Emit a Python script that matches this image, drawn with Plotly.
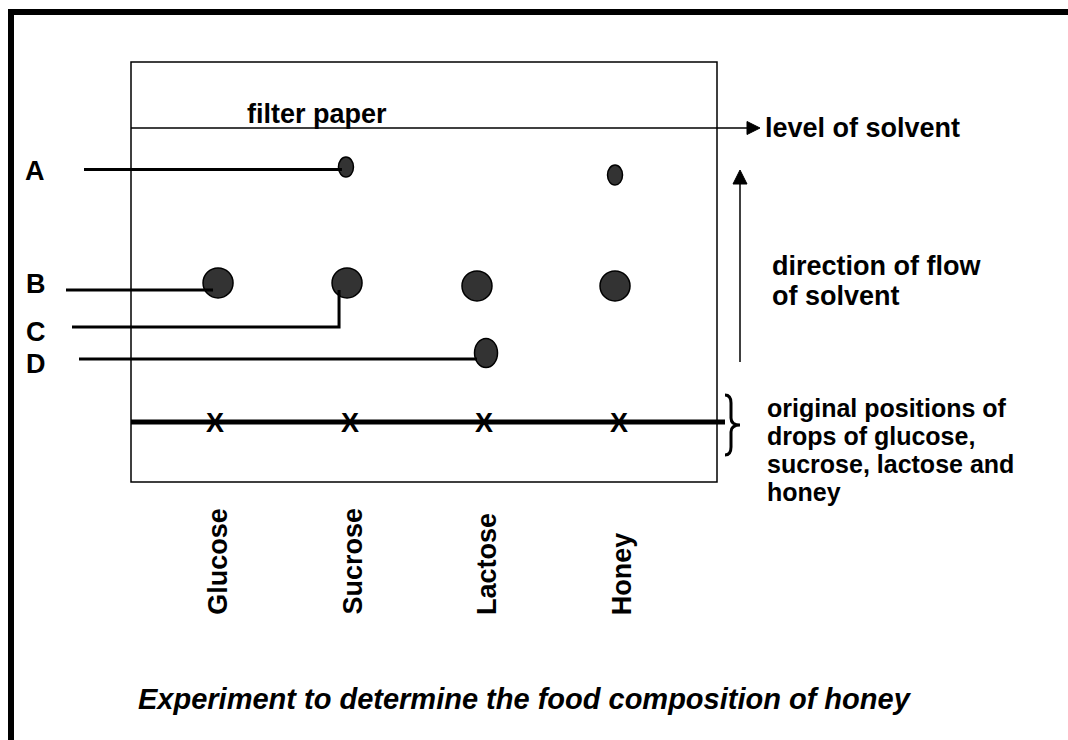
import plotly.graph_objects as go

# ---------------- data ----------------
lanes = ["Glucose", "Sucrose", "Lactose", "Honey"]
# spots on the chromatogram: lane, component letter, Rf (distance / solvent front)
spot_lane = ["Glucose", "Sucrose", "Sucrose", "Lactose", "Lactose", "Honey", "Honey"]
spot_component = ["B", "A", "B", "B", "D", "A", "B"]
spot_rf = [0.473, 0.867, 0.473, 0.463, 0.235, 0.840, 0.463]
spot_drift = [0.024, -0.027, -0.019, -0.055, 0.012, -0.031, -0.031]  # sideways drift, lane units
# leader labels and the spot each one points at (index into spot lists)
leader_labels = ["A", "B", "C", "D"]
leader_spot = [1, 0, 2, 4]

title_text = "Experiment to determine the food composition of honey"
paper_text = "filter paper"
front_text = "level of solvent"
flow_lines = ["direction of flow", "of solvent"]
origin_lines = ["original positions of", "drops of glucose,", "sucrose, lactose and", "honey"]

# ---------------- calibration / geometry ----------------
W, H = 1068, 740
LANE0_PX, LANE_STEP_PX = 214.8, 134.8      # pixel x of first lane, lane spacing
ORIGIN_PY, FRONT_PY = 422.0, 128.0         # pixel y of origin line (Rf 0) and solvent front (Rf 1)
RF_PX = ORIGIN_PY - FRONT_PY


def X(px):
    return (px - LANE0_PX) / LANE_STEP_PX


def Y(py):
    return (ORIGIN_PY - py) / RF_PX


def lane_x(name):
    return lanes.index(name)


FONT = "Liberation Sans, Arial, Helvetica, sans-serif"
LABEL_SIZE = 27
SPOT_FILL = "#333333"
spot_size = {"A": (15, 20), "B": (30, 30), "D": (23, 29)}   # px (w, h)

# leader geometry: start px, attach offset (dx, dy px from spot centre)
leader_start_px = {"A": 84, "B": 66, "C": 72, "D": 79}
leader_attach = {"A": (-4, 2.5), "B": (-5, 7), "C": (-8, 7), "D": (-9, 6)}
C_ELBOW_PY = 327
label_pos = {"A": (23, 170.5), "B": (24, 283.5), "C": (24, 331.5), "D": (24, 364)}

fig = go.Figure()

shapes = []
# outer frame
shapes.append(dict(type="line", xref="x", yref="y", x0=X(8), x1=X(W + 5), y0=Y(12), y1=Y(12),
                   line=dict(color="black", width=6)))
shapes.append(dict(type="line", xref="x", yref="y", x0=X(11), x1=X(11), y0=Y(9), y1=Y(H + 5),
                   line=dict(color="black", width=6)))
# filter paper
shapes.append(dict(type="rect", xref="x", yref="y", x0=X(131), x1=X(717), y0=Y(62), y1=Y(482),
                   line=dict(color="black", width=1.5), fillcolor="rgba(0,0,0,0)"))
# solvent front (Rf = 1) with arrow
shapes.append(dict(type="line", xref="x", yref="y", x0=X(131), x1=X(748), y0=1, y1=1,
                   line=dict(color="black", width=1.5)))
shapes.append(dict(type="path", xref="x", yref="y",
                   path=f"M {X(760)} 1 L {X(747)} {Y(121.5)} L {X(747)} {Y(134.5)} Z",
                   fillcolor="black", line=dict(color="black", width=1)))
# origin line (Rf = 0)
shapes.append(dict(type="line", xref="x", yref="y", x0=X(131), x1=X(725), y0=0, y1=0,
                   line=dict(color="black", width=5)))
# flow direction arrow
shapes.append(dict(type="line", xref="x", yref="y", x0=X(740), x1=X(740), y0=Y(362), y1=Y(183),
                   line=dict(color="black", width=1.5)))
shapes.append(dict(type="path", xref="x", yref="y",
                   path=f"M {X(740)} {Y(170)} L {X(733)} {Y(184)} L {X(747)} {Y(184)} Z",
                   fillcolor="black", line=dict(color="black", width=1)))
# brace
brace = (f"M {X(725)} {Y(395)} Q {X(731)} {Y(395)} {X(731)} {Y(403)} L {X(731)} {Y(418)} "
         f"Q {X(731)} {Y(425)} {X(740)} {Y(425)} Q {X(731)} {Y(425)} {X(731)} {Y(432)} "
         f"L {X(731)} {Y(447)} Q {X(731)} {Y(455)} {X(725)} {Y(455)}")
shapes.append(dict(type="path", xref="x", yref="y", path=brace, line=dict(color="black", width=3)))

# spots
for ln, comp, rf, dr in zip(spot_lane, spot_component, spot_rf, spot_drift):
    w, h = spot_size[comp]
    shapes.append(dict(type="circle", xref="x", yref="y", xsizemode="pixel", ysizemode="pixel",
                       xanchor=lane_x(ln) + dr, yanchor=rf, x0=-w / 2, x1=w / 2, y0=-h / 2, y1=h / 2,
                       fillcolor=SPOT_FILL, line=dict(color="black", width=1.5)))

# leader lines
for lab, si in zip(leader_labels, leader_spot):
    sx = lane_x(spot_lane[si]) + spot_drift[si]
    sy = spot_rf[si]
    dx, dy = leader_attach[lab]
    ex = sx + dx / LANE_STEP_PX
    ey = sy - dy / RF_PX
    x_start = X(leader_start_px[lab])
    if lab == "C":
        path = f"M {x_start} {Y(C_ELBOW_PY)} L {ex} {Y(C_ELBOW_PY)} L {ex} {ey}"
    else:
        path = f"M {x_start} {ey} L {ex} {ey}"
    shapes.append(dict(type="path", xref="x", yref="y", path=path,
                       line=dict(color="black", width=3)))

annotations = []


def txt(text, px, py, size=LABEL_SIZE, xanchor="left", italic=False, angle=0, yanchor="middle"):
    annotations.append(dict(
        text=f"<i><b>{text}</b></i>" if italic else f"<b>{text}</b>",
        x=X(px), y=Y(py), xref="x", yref="y", showarrow=False,
        xanchor=xanchor, yanchor=yanchor, textangle=angle,
        font=dict(family=FONT, size=size, color="black"),
    ))


# origin crosses: one per lane, on the origin line (Rf = 0)
for l in lanes:
    annotations.append(dict(
        text="<b>X</b>", x=lane_x(l), y=0, xref="x", yref="y", showarrow=False,
        xanchor="center", yanchor="middle", yshift=-1,
        font=dict(family=FONT, size=27, color="black"),
    ))

for lab in leader_labels:
    px, py = label_pos[lab]
    txt(lab, px, py)

txt(paper_text, 245, 114)
txt(front_text, 763, 128)
for i, line in enumerate(flow_lines):
    txt(line, 770, 266 + 30 * i)
for i, line in enumerate(origin_lines):
    txt(line, 765, 408 + 28 * i, size=25)

# lane names (rotated), placed at each lane
for l in lanes:
    annotations.append(dict(
        text=f"<b>{l}</b>", x=lane_x(l) + 2.5 / LANE_STEP_PX, y=Y(617), xref="x", yref="y",
        showarrow=False, xanchor="center", yanchor="bottom", textangle=-90,
        font=dict(family=FONT, size=27, color="black"),
    ))

txt(title_text, 525, 699, size=29, xanchor="center", italic=True)

fig.update_layout(
    width=W, height=H, margin=dict(l=0, r=0, t=0, b=0),
    paper_bgcolor="white", plot_bgcolor="white",
    xaxis=dict(range=[X(0), X(W)], visible=False, fixedrange=True),
    yaxis=dict(range=[Y(H), Y(0)], visible=False, fixedrange=True),
    shapes=shapes, annotations=annotations, showlegend=False,
)

fig.write_html("out.html", config={"displayModeBar": False},
               post_script="document.body.style.margin='0';")
